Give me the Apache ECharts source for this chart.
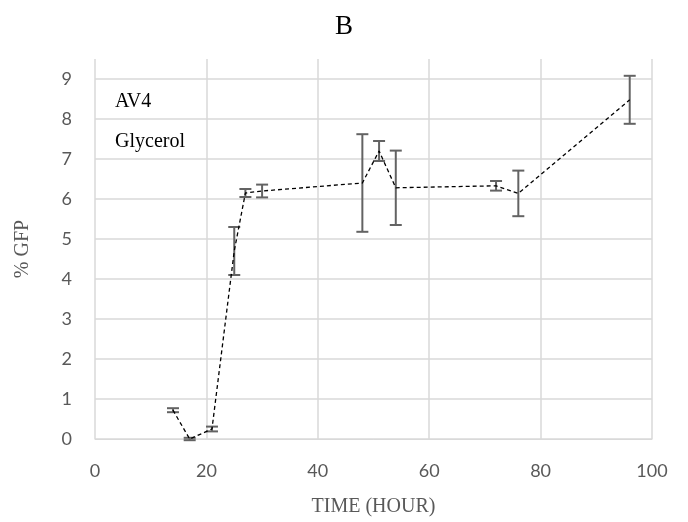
<!DOCTYPE html>
<html>
<head>
<meta charset="utf-8">
<title>GFP</title>
<script src="https://cdn.jsdelivr.net/npm/echarts@6/dist/echarts.min.js"></script>
<style>
    html, body { margin: 0; padding: 0; background: #fff; }
    #chart { width: 688px; height: 522px; }
</style>
</head>
<body>
<div id="chart"></div>
<script>
//////////////////////////////////////////////////////////////////////////////////////////////////
//数据
var hours  = [14, 17, 21, 25, 27, 30, 48, 51, 54, 72, 76, 96];
var gfp    = [0.72, 0, 0.25, 4.7, 6.15, 6.2, 6.4, 7.2, 6.28, 6.33, 6.14, 8.48];
var gfpErr = [0.05, 0.03, 0.06, 0.6, 0.1, 0.16, 1.22, 0.25, 0.93, 0.12, 0.57, 0.6];
var notes  = ['AV4', 'Glycerol'];
//////////////////////////////////////////////////////////////////////////////////////////////////

var gridColor = '#d9d9d9';
var textGray = '#595959';
var serif = '"Liberation Serif", "DejaVu Serif", serif';

var linePoints = [];
var errData = [];
for(let i = 0; i < hours.length; i++){
    linePoints.push([hours[i], gfp[i]]);
    errData.push([hours[i], gfp[i] - gfpErr[i], gfp[i] + gfpErr[i]]);
}

// 误差线: 竖线 + 上下两个横帽
function renderErrorBar(params, api){
    var x = api.value(0);
    var lo = api.coord([x, api.value(1)]);
    var hi = api.coord([x, api.value(2)]);
    var cap = 6;
    var style = { stroke: '#636363', lineWidth: 2 };
    return {
        type: 'group',
        children: [
            { type: 'line', shape: { x1: lo[0], y1: lo[1], x2: hi[0], y2: hi[1] }, style: style },
            { type: 'line', shape: { x1: lo[0] - cap, y1: lo[1], x2: lo[0] + cap, y2: lo[1] }, style: style },
            { type: 'line', shape: { x1: hi[0] - cap, y1: hi[1], x2: hi[0] + cap, y2: hi[1] }, style: style }
        ]
    };
}

// 顶部 9.5 那条线不画
var ySplitColors = [];
for(let i = 0; i < 10; i++) ySplitColors.push(gridColor);
ySplitColors.push('rgba(0,0,0,0)');

var chart = echarts.init(document.getElementById('chart'));
chart.setOption({
    animation: false,
    title: {
        text: 'B',
        left: 'center',
        top: 8,
        textStyle: { fontFamily: serif, fontSize: 27, fontWeight: 'normal', color: '#000' }
    },
    grid: { left: 95, right: 36, top: 59, bottom: 82 },
    xAxis: {
        type: 'value',
        min: 0,
        max: 100,
        interval: 20,
        name: 'TIME (HOUR)',
        nameLocation: 'middle',
        nameGap: 58,
        nameTextStyle: { fontFamily: serif, fontSize: 20, color: textGray },
        axisLine: { show: true, lineStyle: { color: gridColor } },
        axisTick: { show: false },
        axisLabel: { margin: 23, fontFamily: 'Lato', fontSize: 18, color: textGray },
        splitLine: { show: true, lineStyle: { color: gridColor, width: 1.5 } }
    },
    yAxis: {
        type: 'value',
        min: 0,
        max: 9.5,
        interval: 1,
        name: '% GFP',
        nameLocation: 'middle',
        nameGap: 62,
        nameTextStyle: { fontFamily: serif, fontSize: 20, color: textGray },
        axisLine: { show: false },
        axisTick: { show: false },
        axisLabel: {
            margin: 23,
            fontFamily: 'Lato',
            fontSize: 18,
            color: textGray,
            formatter: function(v){ return v % 1 === 0 ? String(v) : ''; }
        },
        splitLine: { show: true, lineStyle: { color: ySplitColors, width: 1.5 } }
    },
    graphic: [
        { type: 'text', left: 115, top: 92, style: { text: notes[0], font: '20px ' + serif, fill: '#000' } },
        { type: 'text', left: 115, top: 132, style: { text: notes[1], font: '20px ' + serif, fill: '#000' } }
    ],
    series: [
        {
            name: 'GFP',
            type: 'line',
            data: linePoints,
            showSymbol: false,
            symbol: 'none',
            lineStyle: { color: '#000', width: 1.3, type: [4, 3] },
            z: 3
        },
        {
            name: 'err',
            type: 'custom',
            data: errData,
            encode: { x: 0, y: [1, 2] },
            renderItem: renderErrorBar,
            z: 2
        }
    ]
});
</script>
</body>
</html>
